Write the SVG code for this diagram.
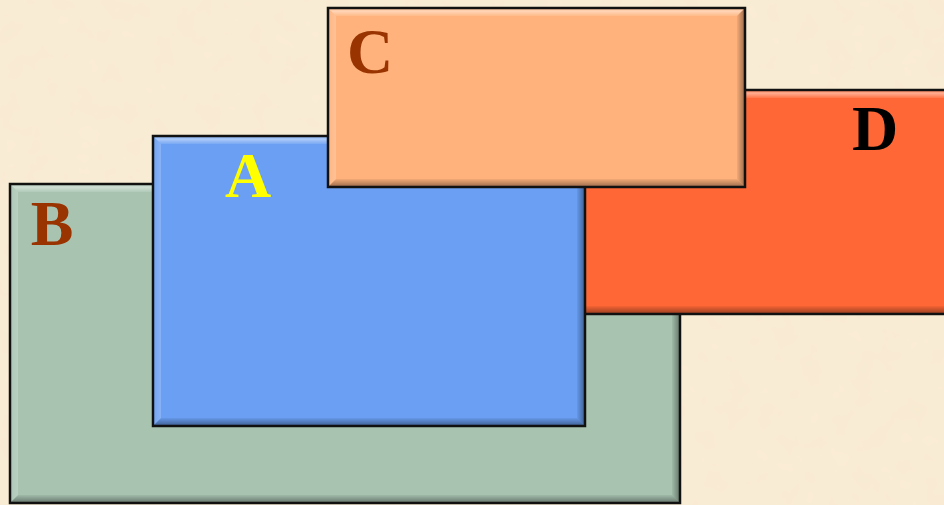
<svg xmlns="http://www.w3.org/2000/svg" width="944" height="505" viewBox="0 0 944 505">
<style>
.t{font-family:"Liberation Serif","Times New Roman",serif;font-weight:bold;font-size:64px;text-anchor:middle}
.hi{fill:url(#gTop)}
.hl{fill:url(#gLeft)}
.sd{fill:url(#gBot)}
.sr{fill:url(#gRight)}
.bd{fill:none;stroke:#111111;stroke-width:2.5}
</style>
<defs>
<linearGradient id="gTop" x1="0" y1="0" x2="0" y2="1"><stop offset="0" stop-color="#fff" stop-opacity="0.15"/><stop offset="0.4" stop-color="#fff" stop-opacity="0.45"/><stop offset="1" stop-color="#fff" stop-opacity="0.1"/></linearGradient>
<linearGradient id="gLeft" x1="0" y1="0" x2="1" y2="0"><stop offset="0" stop-color="#fff" stop-opacity="0.05"/><stop offset="1" stop-color="#fff" stop-opacity="0.2"/></linearGradient>
<linearGradient id="gBot" x1="0" y1="0" x2="0" y2="1"><stop offset="0" stop-color="#000" stop-opacity="0.05"/><stop offset="1" stop-color="#000" stop-opacity="0.4"/></linearGradient>
<linearGradient id="gRight" x1="0" y1="0" x2="1" y2="0"><stop offset="0" stop-color="#000" stop-opacity="0.05"/><stop offset="1" stop-color="#000" stop-opacity="0.4"/></linearGradient>
<filter id="paper" x="0" y="0" width="100%" height="100%">
<feTurbulence type="fractalNoise" baseFrequency="0.04" numOctaves="3" seed="3"/>
<feColorMatrix values="0 0 0 0 0.85  0 0 0 0 0.72  0 0 0 0 0.5  0 0 0 0.15 0"/>
</filter>
</defs>
<rect width="944" height="505" fill="#faedd6"/>
<rect width="944" height="505" filter="url(#paper)"/>
<g id="B">
<rect x="10" y="184" width="670" height="319" fill="#a8c4b1"/>
<polygon class="hi" points="10,184 680,184 672,192 18,192"/>
<polygon class="hl" points="10,184 18,192 18,495 10,503"/>
<polygon class="sd" points="10,503 680,503 672,495 18,495"/>
<polygon class="sr" points="680,184 680,503 672,495 672,192"/>
<rect class="bd" x="10" y="184" width="670" height="319"/>
<text class="t" x="52" y="245" fill="#993300">B</text>
</g>
<g id="D">
<rect x="560" y="90" width="400" height="224" fill="#ff6836"/>
<polygon class="hi" points="560,90 960,90 952,98 568,98"/>
<polygon class="sd" points="560,314 960,314 952,306 568,306"/>
<rect class="bd" x="560" y="90" width="400" height="224"/>
<text class="t" x="875" y="150" fill="#000000">D</text>
</g>
<g id="A">
<rect x="153" y="136" width="432" height="290" fill="#6a9ff3"/>
<polygon class="hi" points="153,136 585,136 577,144 161,144"/>
<polygon class="hl" points="153,136 161,144 161,418 153,426"/>
<polygon class="sd" points="153,426 585,426 577,418 161,418"/>
<polygon class="sr" points="585,136 585,426 577,418 577,144"/>
<rect class="bd" x="153" y="136" width="432" height="290"/>
<text class="t" x="248" y="197" fill="#ffff00">A</text>
</g>
<g id="C">
<rect x="328" y="8" width="417" height="179" fill="#ffb27c"/>
<polygon class="hi" points="328,8 745,8 737,16 336,16"/>
<polygon class="hl" points="328,8 336,16 336,179 328,187"/>
<polygon class="sd" points="328,187 745,187 737,179 336,179"/>
<polygon class="sr" points="745,8 745,187 737,179 737,16"/>
<rect class="bd" x="328" y="8" width="417" height="179"/>
<text class="t" x="370" y="73" fill="#993300">C</text>
</g>
<g id="connectors"/>
</svg>
